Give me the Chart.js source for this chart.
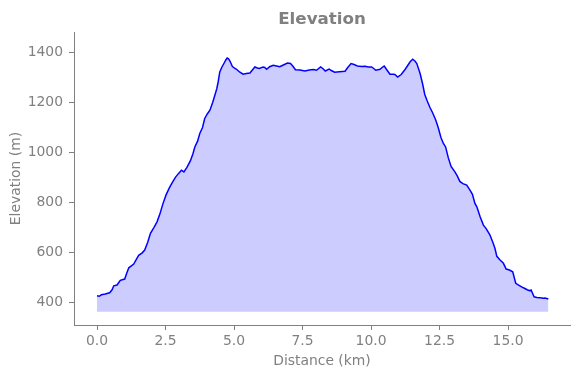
<!DOCTYPE html>
<html>
<head>
<meta charset="utf-8">
<script src="https://cdn.jsdelivr.net/npm/chart.js@4/dist/chart.umd.min.js"></script>
<style>
  html, body { margin: 0; padding: 0; background: #ffffff; }
  #wrap { width: 580px; height: 378px; }
</style>
</head>
<body>
<div id="wrap"><canvas id="c" width="580" height="378"></canvas></div>
<script>
const chartTitle = 'Elevation';
const xAxisTitle = 'Distance (km)';
const yAxisTitle = 'Elevation (m)';
const xTicks = [0, 2.5, 5, 7.5, 10, 12.5, 15];
const yTicks = [400, 600, 800, 1000, 1200, 1400];
const fillBaseline = 362;

const distanceKm = [
  0.00, 0.08, 0.16, 0.30, 0.46, 0.55, 0.61, 0.73, 0.85, 1.01,
  1.08, 1.16, 1.34, 1.45, 1.52, 1.65, 1.74, 1.85, 1.95, 2.08,
  2.19, 2.29, 2.41, 2.52, 2.63, 2.75, 2.86, 2.97, 3.08, 3.17,
  3.28, 3.41, 3.50, 3.57, 3.67, 3.75, 3.85, 3.93, 4.03, 4.12,
  4.22, 4.30, 4.37, 4.42, 4.48, 4.55, 4.63, 4.70, 4.75, 4.80,
  4.86, 4.94, 5.02, 5.09, 5.20, 5.33, 5.45, 5.58, 5.67, 5.76,
  5.85, 5.92, 6.06, 6.12, 6.19, 6.30, 6.43, 6.55, 6.67, 6.80,
  6.95, 7.06, 7.15, 7.24, 7.40, 7.59, 7.75, 7.90, 8.01, 8.16,
  8.25, 8.33, 8.47, 8.55, 8.67, 8.85, 9.05, 9.15, 9.27, 9.38,
  9.50, 9.65, 9.78, 9.90, 10.02, 10.10, 10.17, 10.33, 10.40, 10.48,
  10.58, 10.69, 10.80, 10.87, 10.97, 11.10, 11.24, 11.35, 11.42, 11.52,
  11.60, 11.67, 11.79, 11.88, 11.96, 12.05, 12.15, 12.25, 12.36, 12.45,
  12.55, 12.64, 12.72, 12.82, 12.92, 13.06, 13.15, 13.24, 13.35, 13.49,
  13.61, 13.70, 13.79, 13.86, 13.98, 14.10, 14.20, 14.34, 14.45, 14.52,
  14.59, 14.70, 14.83, 14.93, 15.05, 15.17, 15.28, 15.40, 15.56, 15.70,
  15.78, 15.84, 15.95, 16.05, 16.17, 16.29, 16.35, 16.47
];
const elevationM = [
  426, 424, 430, 433, 438, 450, 466, 469, 488, 493,
  515, 538, 553, 575, 588, 598, 609, 640, 676, 700,
  722, 752, 796, 830, 856, 880, 900, 915, 929, 922,
  940, 967, 995, 1022, 1045, 1076, 1100, 1136, 1155, 1169,
  1200, 1229, 1255, 1282, 1322, 1340, 1356, 1370, 1378, 1375,
  1364, 1344, 1338, 1333, 1322, 1313, 1316, 1318, 1330, 1342,
  1338, 1336, 1342, 1340, 1333, 1343, 1349, 1346, 1343, 1350,
  1358, 1356, 1345, 1331, 1330, 1326, 1330, 1332, 1329, 1342,
  1335, 1326, 1334, 1328, 1321, 1323, 1325, 1340, 1356, 1352,
  1346, 1344, 1345, 1342, 1342, 1336, 1329, 1333, 1340, 1346,
  1330, 1313, 1313, 1312, 1302, 1312, 1332, 1350, 1362, 1373,
  1366, 1356, 1316, 1275, 1232, 1206, 1180, 1158, 1130, 1100,
  1060, 1036, 1022, 978, 944, 922, 905, 884, 875, 869,
  849, 832, 796, 782, 742, 709, 695, 669, 638, 616,
  584, 570, 556, 533, 529, 522, 476, 468, 458, 450,
  446, 449, 422, 419, 418, 416, 417, 413
];

const points = distanceKm.map((d, i) => ({ x: d, y: elevationM[i] }));

const GRAY = '#808080';
const FONT = "'DejaVu Sans', sans-serif";

new Chart(document.getElementById('c'), {
  type: 'line',
  data: {
    datasets: [{
      data: points,
      borderColor: '#0000ff',
      borderWidth: 1.5,
      backgroundColor: 'rgba(0,0,255,0.2)',
      fill: { value: fillBaseline },
      pointRadius: 0,
      tension: 0
    }]
  },
  options: {
    responsive: false,
    animation: false,
    layout: { padding: { left: 0, right: 10, top: 0, bottom: 0 } },
    plugins: {
      legend: { display: false },
      tooltip: { enabled: false },
      title: {
        display: true,
        text: chartTitle,
        color: GRAY,
        fullSize: false,
        font: { family: FONT, size: 16.7, weight: 'bold', lineHeight: 1.2 },
        padding: { top: 10, bottom: 2 }
      }
    },
    scales: {
      x: {
        type: 'linear',
        min: -0.84,
        max: 17.26,
        afterBuildTicks: (s) => { s.ticks = xTicks.map(v => ({ value: v })); },
        afterFit: (s) => { s.height = 53; },
        border: { display: true, color: GRAY, width: 1 },
        grid: { drawOnChartArea: false, drawTicks: true, tickLength: 5, tickColor: GRAY, tickWidth: 1 },
        ticks: {
          color: GRAY,
          padding: 3,
          maxRotation: 0,
          font: { family: FONT, size: 13.9 },
          callback: (v) => Number(v).toFixed(1)
        },
        title: {
          display: true,
          text: xAxisTitle,
          color: GRAY,
          font: { family: FONT, size: 13.9, lineHeight: 1.2 },
          padding: { top: 0, bottom: 8 }
        }
      },
      y: {
        type: 'linear',
        min: 309,
        max: 1482,
        afterBuildTicks: (s) => { s.ticks = yTicks.map(v => ({ value: v })); },
        afterFit: (s) => { s.width = 74; },
        border: { display: true, color: GRAY, width: 1 },
        grid: { drawOnChartArea: false, drawTicks: true, tickLength: 5, tickColor: GRAY, tickWidth: 1 },
        ticks: {
          color: GRAY,
          padding: 6,
          font: { family: FONT, size: 13.9 },
          callback: (v) => String(v)
        },
        title: {
          display: true,
          text: yAxisTitle,
          color: GRAY,
          font: { family: FONT, size: 13.9, lineHeight: 1.2 },
          padding: { top: 8, bottom: 0 }
        }
      }
    }
  }
});
</script>
</body>
</html>
